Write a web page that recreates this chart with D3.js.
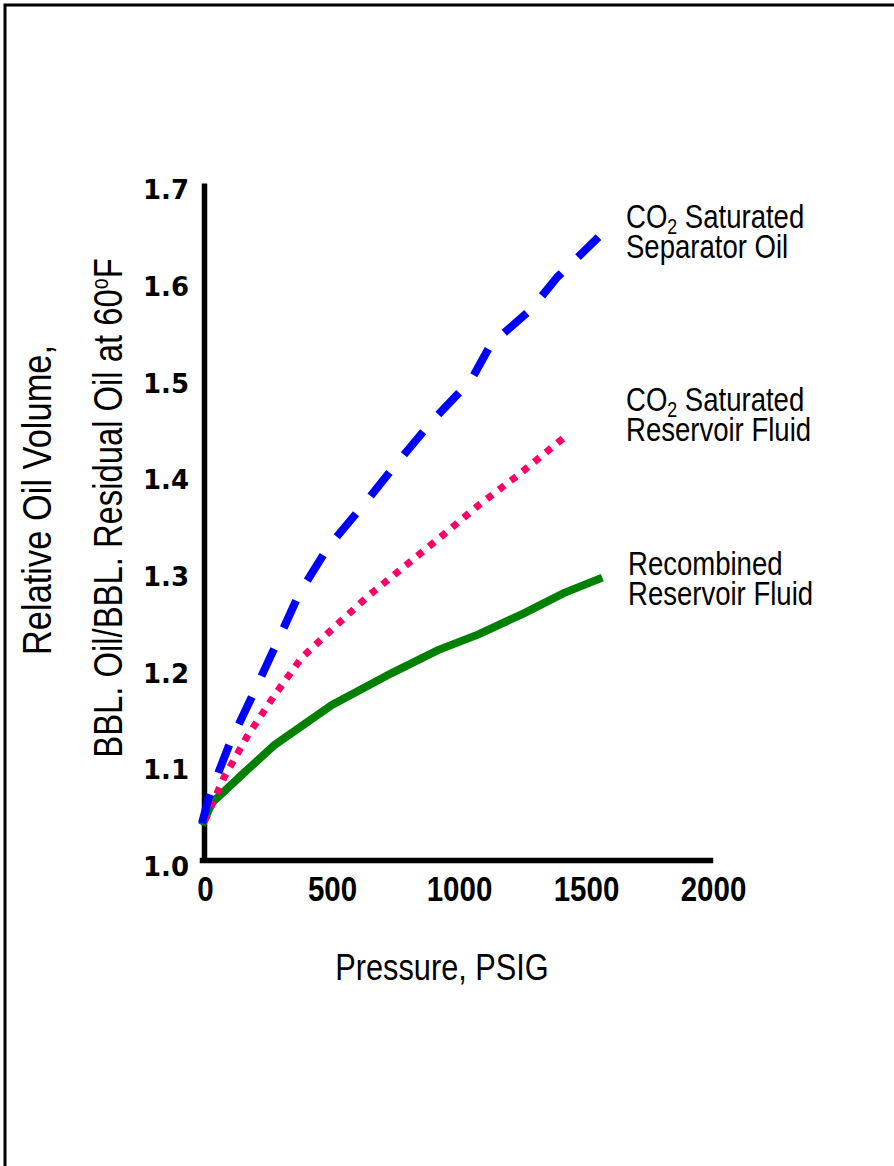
<!DOCTYPE html>
<html>
<head>
<meta charset="utf-8">
<script src="https://cdn.jsdelivr.net/npm/d3@7"></script>
<style>
  body { margin: 0; background: #fff; }
  svg { display: block; }
</style>
</head>
<body>
<div id="chart"></div>
<script>
// values
const pressureSep = [0, 27, 110, 204, 294, 384, 498, 635, 773, 910, 1059, 1137, 1294, 1400, 1561];
const volumeSep = [1.038, 1.065, 1.121, 1.173, 1.224, 1.276, 1.324, 1.367, 1.412, 1.455, 1.496, 1.533, 1.569, 1.603, 1.644];

const pressureRes = [10, 86, 176, 282, 392, 522, 659, 804, 949, 1090, 1235, 1380, 1440];
const volumeRes = [1.04, 1.085, 1.127, 1.169, 1.209, 1.241, 1.274, 1.305, 1.336, 1.367, 1.396, 1.427, 1.44];

const pressureRec = [0, 39, 169, 286, 510, 745, 929, 1086, 1267, 1424, 1576];
const volumeRec = [1.036, 1.059, 1.091, 1.119, 1.160, 1.193, 1.217, 1.233, 1.255, 1.276, 1.292];

const xTicks = [0, 500, 1000, 1500, 2000];
const yTicks = [1.0, 1.1, 1.2, 1.3, 1.4, 1.5, 1.6, 1.7];

// no narrow face installed, so regular Liberation Sans gets squeezed sideways
const sans = "'Liberation Sans', Arial, sans-serif";
const squeeze = 0.82;

const width = 894, height = 1166;
const svg = d3.select("#chart").append("svg")
    .attr("width", width)
    .attr("height", height);

// page frame
svg.append("rect")
    .attr("x", 5).attr("y", 5)
    .attr("width", 1000).attr("height", 1300)
    .attr("fill", "none")
    .attr("stroke", "#000")
    .attr("stroke-width", 3);

const x = d3.scaleLinear().domain([0, 2000]).range([202, 710]);
const y = d3.scaleLinear().domain([1.0, 1.7]).range([860, 183]);

// axes
const yAxis = svg.append("g")
    .attr("transform", `translate(${x(0) + 2}, 0)`)
    .call(d3.axisLeft(y).tickValues(yTicks).tickSize(0).tickSizeOuter(0).tickPadding(15).tickFormat(d3.format(".1f")));
yAxis.select(".domain").attr("stroke", "#000").attr("stroke-width", 5.5);
yAxis.selectAll("text")
    .attr("font-family", "'DejaVu Sans', sans-serif")
    .attr("font-weight", "bold")
    .attr("font-size", 26)
    .attr("fill", "#000")
    .attr("dy", "0.6em");

const xAxis = svg.append("g")
    .attr("transform", `translate(0, ${y(1.0)})`)
    .call(d3.axisBottom(x).tickValues(xTicks).tickSize(0).tickSizeOuter(0).tickPadding(15).tickFormat(d3.format("d")));
xAxis.select(".domain").attr("stroke", "#000").attr("stroke-width", 5.5).attr("stroke-linecap", "square");
xAxis.selectAll("text")
    .attr("font-family", sans)
    .attr("font-weight", "bold")
    .attr("font-size", 36)
    .attr("fill", "#000")
    .attr("transform", `translate(3, 0) scale(${squeeze}, 1)`);

// curves
const line = d3.line()
    .x(d => x(d[0]))
    .y(d => y(d[1]));

svg.append("path")
    .datum(d3.zip(pressureRec, volumeRec))
    .attr("d", line)
    .attr("fill", "none")
    .attr("stroke", "#008000")
    .attr("stroke-width", 8);

svg.append("path")
    .datum(d3.zip(pressureRes, volumeRes))
    .attr("d", line)
    .attr("fill", "none")
    .attr("stroke", "#ff0066")
    .attr("stroke-width", 7)
    .attr("stroke-dasharray", "7,8");

svg.append("path")
    .datum(d3.zip(pressureSep, volumeSep))
    .attr("d", line)
    .attr("fill", "none")
    .attr("stroke", "#0000ff")
    .attr("stroke-width", 8)
    .attr("stroke-dasharray", "30,23");

// curve labels
function label(px, py, first, second, co2) {
    let t = svg.append("text")
        .attr("transform", `translate(${px}, ${py}) scale(0.81, 1)`)
        .attr("font-family", sans)
        .attr("font-size", 34)
        .attr("fill", "#000");
    if (co2) {
        t.append("tspan").text("CO");
        t.append("tspan").attr("font-size", 22).attr("dy", 6).text("2");
        t.append("tspan").attr("dy", -6).text(" " + first);
    } else {
        t.append("tspan").text(first);
    }
    t.append("tspan").attr("x", 0).attr("y", 30).text(second);
}
label(626, 228, "Saturated", "Separator Oil", true);
label(626, 411, "Saturated", "Reservoir Fluid", true);
label(628, 575, "Recombined", "Reservoir Fluid", false);

// axis titles
svg.append("text")
    .attr("transform", "translate(442, 980) scale(0.83, 1)")
    .attr("text-anchor", "middle")
    .attr("font-family", sans)
    .attr("font-size", 37)
    .attr("fill", "#000")
    .text("Pressure, PSIG");

svg.append("text")
    .attr("transform", `translate(51, 500) rotate(-90) scale(0.84, 1)`)
    .attr("text-anchor", "middle")
    .attr("font-family", sans)
    .attr("font-size", 41)
    .attr("fill", "#000")
    .text("Relative Oil Volume,");

const t2 = svg.append("text")
    .attr("transform", `translate(122, 508) rotate(-90) scale(${squeeze}, 1)`)
    .attr("text-anchor", "middle")
    .attr("font-family", sans)
    .attr("font-size", 40)
    .attr("fill", "#000");
t2.append("tspan").text("BBL. Oil/BBL. Residual Oil at 60");
t2.append("tspan").attr("font-size", 24).attr("dy", -14).text("o");
t2.append("tspan").attr("dy", 14).text("F");
</script>
</body>
</html>
